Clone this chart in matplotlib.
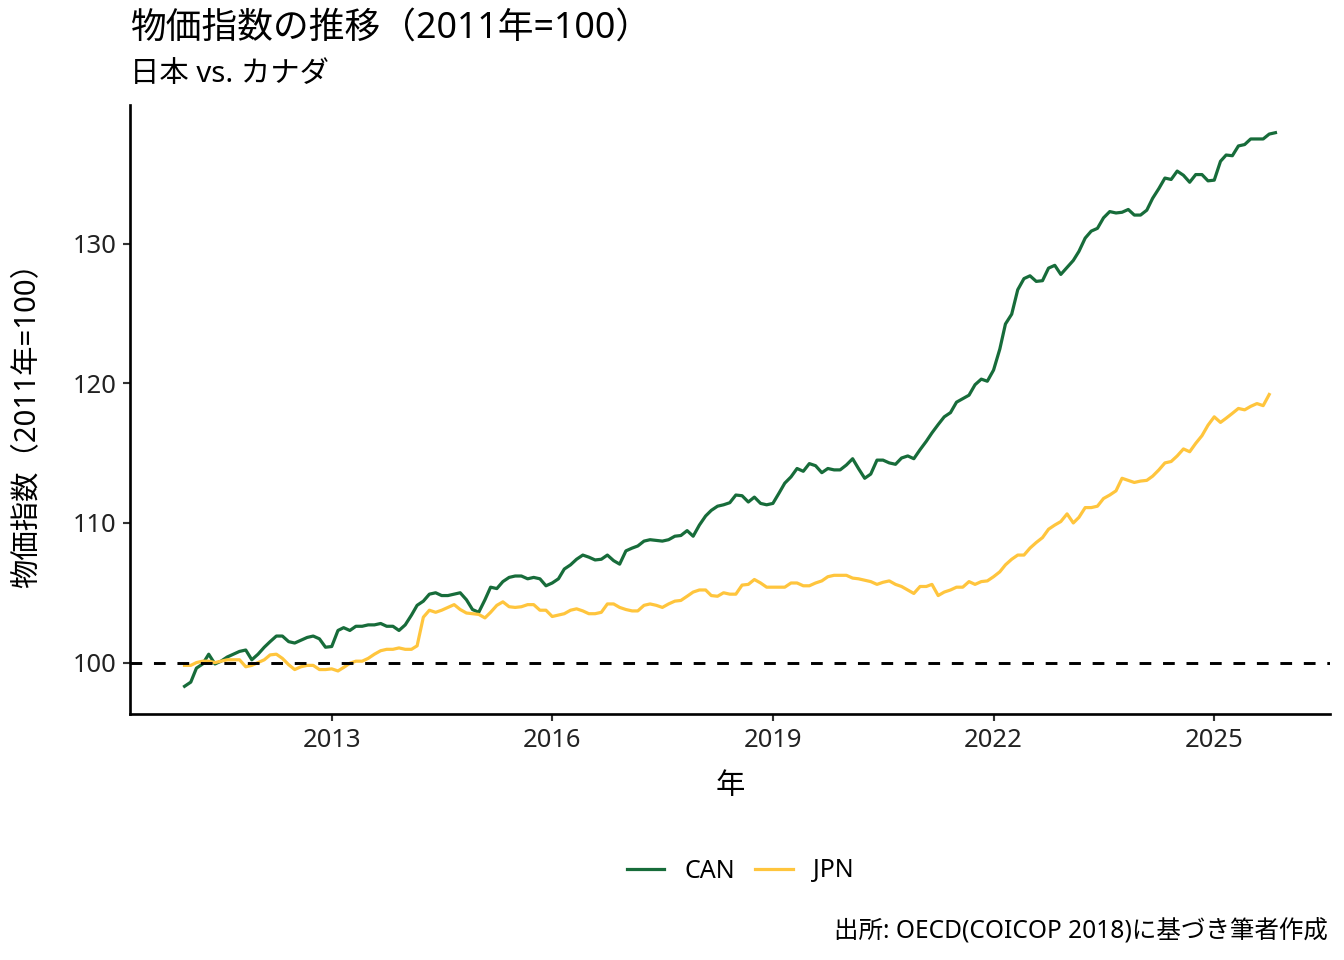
import numpy as np
import pandas as pd
import matplotlib
matplotlib.use("Agg")
import matplotlib.pyplot as plt
import matplotlib.dates as mdates

# Latin glyphs from Noto Sans, Japanese glyphs fall back to Noto Sans CJK JP
plt.rcParams['font.family'] = ['Noto Sans', 'Noto Sans CJK JP', 'DejaVu Sans']

# monthly index values (2011 = 100)
can = [98.3, 98.6, 99.6, 99.9, 100.6, 99.9, 100.1, 100.4, 100.6, 100.8, 100.9, 100.2,
       100.6, 101.1, 101.5, 101.9, 101.9, 101.5, 101.4, 101.6, 101.8, 101.9, 101.7, 101.1,
       101.15, 102.3, 102.5, 102.3, 102.6, 102.6, 102.7, 102.7, 102.8, 102.6, 102.6, 102.3,
       102.7, 103.4, 104.1, 104.4, 104.9, 105.0, 104.8, 104.8, 104.9, 105.0, 104.5, 103.8,
       103.6, 104.5, 105.4, 105.3, 105.8, 106.1, 106.2, 106.2, 106.0, 106.1, 106.0, 105.5,
       105.7, 106.0, 106.7, 107.0, 107.4, 107.7, 107.55, 107.35, 107.4, 107.7, 107.3, 107.05,
       108.0, 108.2, 108.35, 108.7, 108.8, 108.75, 108.7, 108.8, 109.05, 109.1, 109.45, 109.05,
       109.85, 110.5, 110.9, 111.2, 111.3, 111.45, 112.0, 111.95, 111.5, 111.85, 111.4, 111.3,
       111.4, 112.15, 112.85, 113.3, 113.9, 113.7, 114.25, 114.1, 113.6, 113.9, 113.8, 113.8,
       114.15, 114.6, 113.9, 113.2, 113.5, 114.5, 114.5, 114.3, 114.2, 114.65, 114.8, 114.6,
       115.25, 115.85, 116.45, 117.05, 117.6, 117.9, 118.65, 118.9, 119.15, 119.9, 120.3, 120.15,
       120.95, 122.45, 124.25, 124.95, 126.7, 127.5, 127.7, 127.3, 127.35, 128.25, 128.45, 127.8,
       128.3, 128.8, 129.45, 130.4, 130.9, 131.1, 131.85, 132.3, 132.2, 132.25, 132.45, 132.05,
       132.05, 132.4, 133.25, 133.95, 134.7, 134.6, 135.2, 134.9, 134.4, 134.95, 134.95, 134.5,
       134.55, 135.9, 136.35, 136.3, 137.0, 137.1, 137.5, 137.5, 137.5, 137.85, 137.95]

jpn = [99.8, 99.8, 100.0, 100.1, 100.1, 100.0, 100.1, 100.2, 100.2, 100.2, 99.7, 99.8,
       100.0, 100.2, 100.55, 100.6, 100.3, 99.85, 99.5, 99.7, 99.8, 99.8, 99.5, 99.5,
       99.55, 99.4, 99.65, 99.95, 100.1, 100.1, 100.3, 100.6, 100.85, 100.95, 100.95, 101.05,
       100.95, 100.95, 101.2, 103.25, 103.75, 103.6, 103.75, 103.95, 104.15, 103.8, 103.55, 103.5,
       103.45, 103.2, 103.6, 104.1, 104.35, 104.0, 103.95, 104.0, 104.15, 104.15, 103.75, 103.75,
       103.3, 103.4, 103.5, 103.75, 103.85, 103.7, 103.5, 103.5, 103.6, 104.2, 104.2, 103.95,
       103.8, 103.7, 103.7, 104.1, 104.2, 104.1, 103.95, 104.2, 104.4, 104.45, 104.75, 105.05,
       105.2, 105.2, 104.8, 104.75, 105.0, 104.9, 104.9, 105.55, 105.6, 105.95, 105.7, 105.4,
       105.4, 105.4, 105.4, 105.7, 105.7, 105.5, 105.5, 105.7, 105.85, 106.15, 106.25, 106.25,
       106.25, 106.05, 106.0, 105.9, 105.8, 105.6, 105.75, 105.85, 105.6, 105.45, 105.2, 104.95,
       105.45, 105.45, 105.6, 104.8, 105.05, 105.2, 105.4, 105.4, 105.8, 105.6, 105.8, 105.85,
       106.15, 106.5, 107.0, 107.4, 107.7, 107.7, 108.2, 108.6, 108.95, 109.55, 109.85, 110.1,
       110.65, 110.0, 110.4, 111.1, 111.1, 111.2, 111.75, 112.0, 112.3, 113.2, 113.05, 112.9,
       113.0, 113.05, 113.35, 113.8, 114.3, 114.4, 114.8, 115.3, 115.1, 115.7, 116.25, 117.0,
       117.6, 117.2, 117.5, 117.85, 118.2, 118.1, 118.35, 118.55, 118.4, 119.2]

series_names = ['CAN', 'JPN']
series_colors = ['#176C3A', '#FFC53D']
year_ticks = ['2013', '2016', '2019', '2022', '2025']
y_ticks = [100, 110, 120, 130]

dates_can = pd.date_range('2011-01-01', periods=len(can), freq='MS')
dates_jpn = pd.date_range('2011-01-01', periods=len(jpn), freq='MS')

W, H = 1344, 960
fig = plt.figure(figsize=(7, 5), dpi=192)
ax = fig.add_axes([130 / W, 1 - 714 / H, 1200 / W, 609 / H])

ax.plot(dates_can, can, color=series_colors[0], lw=1.2, label=series_names[0])
ax.plot(dates_jpn, jpn, color=series_colors[1], lw=1.2, label=series_names[1])
ax.axhline(100, color='black', lw=1.1, linestyle=(0, (4, 4)))
ax.margins(x=0.05, y=0.05)

ax.set_xticks([pd.Timestamp(y + '-01-01') for y in year_ticks])
ax.xaxis.set_major_formatter(mdates.DateFormatter('%Y'))
ax.set_yticks(y_ticks)

for s in ['top', 'right']:
    ax.spines[s].set_visible(False)
for s in ['left', 'bottom']:
    ax.spines[s].set_linewidth(1.0)
ax.tick_params(length=2.75, width=0.8, pad=2.4, labelsize=9.6,
               color='#333333', labelcolor='#222222')

fig.text(130 / W, 1 - 29 / H, '物価指数の推移（2011年=100）', fontsize=13.4,
         ha='left', va='center')
fig.text(130 / W, 1 - 75 / H, '日本 vs. カナダ', fontsize=11, ha='left', va='center')
fig.text(27 / W, 1 - 418 / H, '物価指数（2011年=100）', fontsize=11, rotation=90,
         ha='center', va='center')
fig.text(730 / W, 1 - 787 / H, '年', fontsize=11, ha='center', va='center')
fig.text(1328 / W, 1 - 932 / H, '出所: OECD(COICOP 2018)に基づき筆者作成', fontsize=9.2,
         ha='right', va='center')

fig.legend(loc='center', bbox_to_anchor=(740 / W, 1 - 871 / H), ncol=2, frameon=False,
           fontsize=9.4, handlelength=1.5, handletextpad=0.8, columnspacing=0.8)

fig.savefig('out.png', dpi=192, facecolor='white')
